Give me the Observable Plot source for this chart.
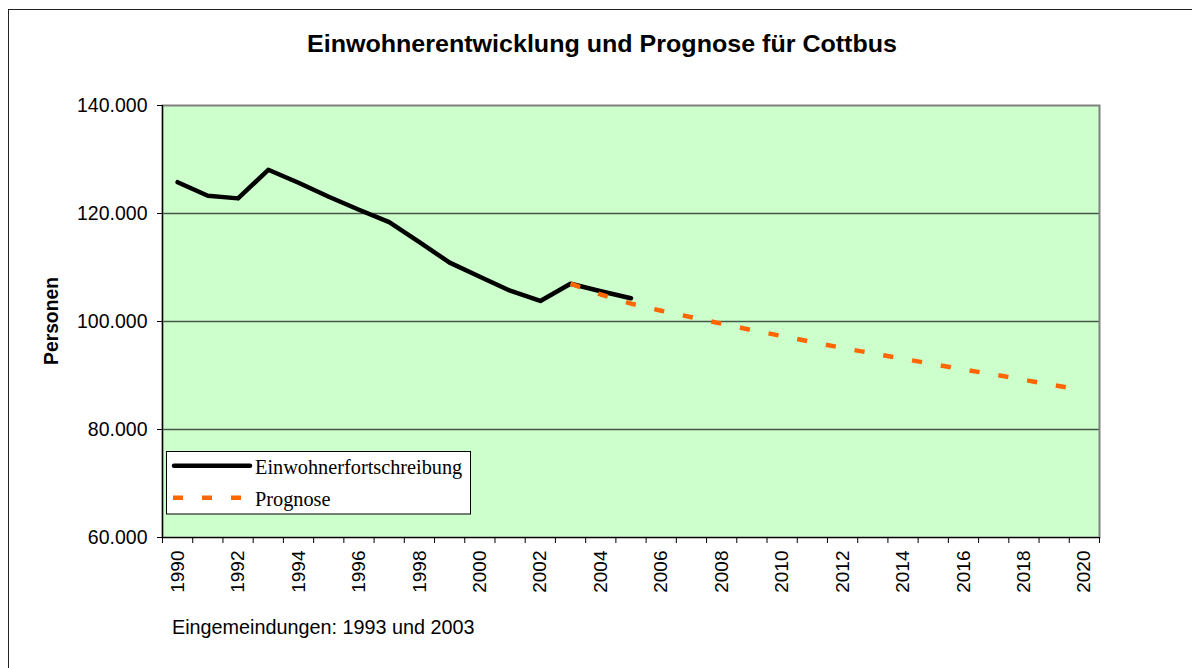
<!DOCTYPE html>
<html>
<head>
<meta charset="utf-8">
<script src="https://cdn.jsdelivr.net/npm/d3@7"></script>
<script src="https://cdn.jsdelivr.net/npm/@observablehq/plot@0.6"></script>
<style>
html, body { margin: 0; padding: 0; background: #fff; overflow: hidden; }
#wrap { position: relative; width: 1192px; height: 668px; overflow: hidden; font-family: "Liberation Sans", Arial, sans-serif; }
#frame { position: absolute; left: 8px; top: 9px; width: 1184px; height: 659px; border-left: 1px solid #222; border-top: 1px solid #222; box-sizing: border-box; }
#chart { position: absolute; left: 0; top: 0; }
#overlay { position: absolute; left: 0; top: 0; }
</style>
</head>
<body>
<div id="wrap">
  <div id="frame"></div>
  <div id="chart"></div>
  <svg id="overlay" width="1192" height="668"></svg>
</div>
<script>
// ---- data ----
const titleText = "Einwohnerentwicklung und Prognose für Cottbus";
const yAxisLabel = "Personen";
const captionText = "Eingemeindungen: 1993 und 2003";
const seriesNames = ["Einwohnerfortschreibung", "Prognose"];
const seriesColors = ["#000000", "#FF6600"];

const histYears = [1990, 1991, 1992, 1993, 1994, 1995, 1996, 1997, 1998, 1999, 2000, 2001, 2002, 2003, 2004, 2005];
const histValues = [125800, 123300, 122800, 128100, 125700, 123100, 120700, 118400, 114700, 110900, 108300, 105700, 103800, 107000, 105600, 104300];

const progYears = [2003, 2004, 2005, 2006, 2007, 2008, 2009, 2010, 2011, 2012, 2013, 2014, 2015, 2016, 2017, 2018, 2019, 2020];
const progValues = [107000, 105000, 103300, 102000, 100800, 99600, 98400, 97300, 96200, 95100, 94100, 93100, 92100, 91100, 90200, 89200, 88200, 87200];

const categoryYears = d3.range(1990, 2021);
const xTickLabels = [1990, 1992, 1994, 1996, 1998, 2000, 2002, 2004, 2006, 2008, 2010, 2012, 2014, 2016, 2018, 2020];
const yTicks = [60000, 80000, 100000, 120000, 140000];

// ---- tables ----
const hist = histYears.map((year, i) => ({year, value: histValues[i], series: seriesNames[0]}));
const prog = progYears.map((year, i) => ({year, value: progValues[i], series: seriesNames[1]}));
const boundaries = [...categoryYears.map(y => y - 0.5), categoryYears[categoryYears.length - 1] + 0.5];

const fmt = d3.formatLocale({decimal: ",", thousands: ".", grouping: [3], currency: ["", "€"]}).format(",");

const chart = Plot.plot({
  width: 1192,
  height: 668,
  marginLeft: 162,
  marginRight: 93,
  marginTop: 105,
  marginBottom: 131,
  style: {background: "transparent", fontFamily: "'Liberation Sans', Arial, sans-serif", color: "#000", overflow: "visible"},
  x: {type: "linear", domain: [boundaries[0], boundaries[boundaries.length - 1]]},
  y: {domain: [yTicks[0], yTicks[yTicks.length - 1]]},
  marks: [
    Plot.frame({fill: "#CCFFCC", stroke: null}),
    Plot.gridY(yTicks.slice(1, -1), {stroke: "#4a554a", strokeOpacity: 1, strokeWidth: 1.3}),
    Plot.frame({stroke: "#808080", strokeWidth: 2}),
    Plot.ruleX([boundaries[0]], {stroke: "#000", strokeWidth: 1.2}),
    Plot.ruleY([yTicks[0]], {stroke: "#000", strokeWidth: 1.2}),
    Plot.axisY(yTicks, {tickFormat: fmt, tickSize: 5, tickPadding: 10, fontSize: 19.5, label: null}),
    Plot.axisX(boundaries, {tickSize: 6, fill: "none", label: null}),
    Plot.axisX(xTickLabels, {tickSize: 0, tickRotate: -90, tickPadding: 13, fontSize: 19, label: null, tickFormat: d => String(d)}),
    Plot.line(hist, {x: "year", y: "value", stroke: seriesColors[0], strokeWidth: 4.5, strokeLinejoin: "round", strokeLinecap: "round"}),
    Plot.line(prog, {x: "year", y: "value", stroke: seriesColors[1], strokeWidth: 4.5, strokeDasharray: "10.2,19", strokeLinecap: "butt"})
  ]
});
document.getElementById("chart").appendChild(chart);

// ---- overlay texts & legend ----
const ov = d3.select("#overlay");
ov.append("text")
  .attr("x", 307).attr("y", 51.7)
  .attr("font-family", "'Liberation Sans', Arial, sans-serif")
  .attr("font-weight", "bold").attr("font-size", 24)
  .attr("textLength", 590).attr("lengthAdjust", "spacingAndGlyphs")
  .text(titleText);
ov.append("text")
  .attr("transform", "translate(57.5,321) rotate(-90)")
  .attr("text-anchor", "middle")
  .attr("font-family", "'Liberation Sans', Arial, sans-serif")
  .attr("font-weight", "bold").attr("font-size", 19.3)
  .text(yAxisLabel);
ov.append("text")
  .attr("x", 172).attr("y", 634.3)
  .attr("font-family", "'Liberation Sans', Arial, sans-serif")
  .attr("font-size", 19.8)
  .text(captionText);

const lg = ov.append("g");
lg.append("rect").attr("x", 166.5).attr("y", 451.5).attr("width", 304).attr("height", 62.5)
  .attr("fill", "#fff").attr("stroke", "#000").attr("stroke-width", 1);
lg.append("line").attr("x1", 174).attr("x2", 250).attr("y1", 465.7).attr("y2", 465.7)
  .attr("stroke", seriesColors[0]).attr("stroke-width", 4.5).attr("stroke-linecap", "round");
lg.append("line").attr("x1", 173).attr("x2", 243).attr("y1", 497.7).attr("y2", 497.7)
  .attr("stroke", seriesColors[1]).attr("stroke-width", 4.5).attr("stroke-dasharray", "10,19");
seriesNames.forEach((name, i) => {
  lg.append("text").attr("x", 255).attr("y", i === 0 ? 474.3 : 505.7)
    .attr("font-family", "'Liberation Serif', 'Times New Roman', serif")
    .attr("font-size", 20.3)
    .text(name);
});
</script>
</body>
</html>
